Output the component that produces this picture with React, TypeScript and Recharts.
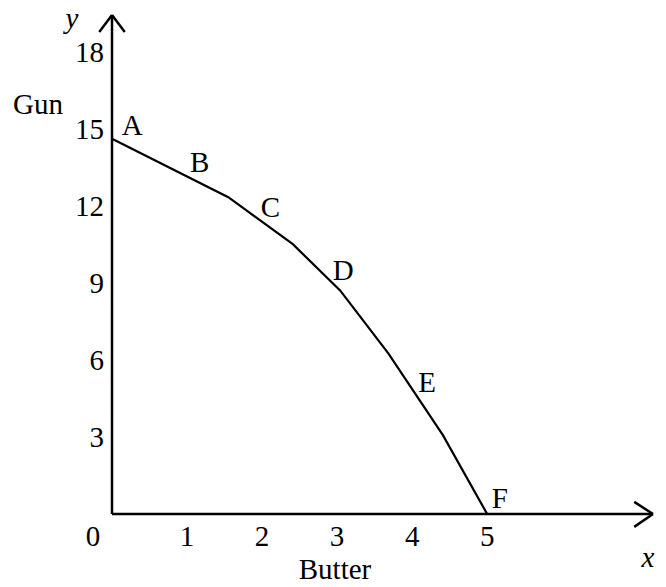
import { LineChart, Line, XAxis, YAxis, ReferenceLine, ReferenceDot, Label } from "recharts";

// production possibility frontier
const curveX = [0, 1.55, 2.41, 3.04, 3.68, 4.41, 5];
const curveY = [14.6, 12.33, 10.5, 8.7, 6.26, 3.07, 0];

const pointNames = ["A", "B", "C", "D", "E", "F"];
const labelX = [0.27, 1.17, 2.11, 3.08, 4.2, 5.17];
const labelY = [15.15, 13.7, 11.95, 9.5, 5.13, 0.62];

const xTicks = [0, 1, 2, 3, 4, 5];
const yTicks = [3, 6, 9, 12, 15, 18];
const xMax = 7.21;
const yMax = 19.42;

const data = curveX.map((x, i) => ({ x, y: curveY[i] }));

const FONT = "'Liberation Serif', 'Times New Roman', serif";
const SIZE = 29;

function XTick(props: any) {
  const { x, y, payload } = props;
  const shift = payload.value === 0 ? -19 : 0;
  return (
    <text x={x + shift} y={y} dy="0.71em" textAnchor="middle" fontFamily={FONT} fontSize={SIZE} fill="#000">
      {payload.value}
    </text>
  );
}

function YTick(props: any) {
  const { x, y, payload } = props;
  return (
    <text x={x} y={y} dy="0.35em" textAnchor="end" fontFamily={FONT} fontSize={SIZE} fill="#000">
      {payload.value}
    </text>
  );
}

const arrow = { stroke: "#000", strokeWidth: 2.5, ifOverflow: "visible" as const };

export default function App() {
  return (
    <div style={{ position: "absolute", left: 0, top: 0, background: "#fff" }}>
      <LineChart width={666} height={587} data={data} margin={{ top: 15, right: 13, left: 72, bottom: 43 }}>
        <XAxis
          type="number"
          dataKey="x"
          domain={[0, xMax]}
          ticks={xTicks}
          tick={<XTick />}
          tickLine={false}
          tickSize={0}
          tickMargin={11}
          height={30}
          axisLine={{ stroke: "#000", strokeWidth: 2.5 }}
          interval={0}
        >
          <Label
            content={(p: any) => {
              const vb = p.viewBox;
              return (
                <g fontFamily={FONT} fontSize={SIZE} fill="#000">
                  <text x={vb.x + 223} y={vb.y + 65} textAnchor="middle">Butter</text>
                  <text x={vb.x + vb.width - 5} y={vb.y + 43} textAnchor="middle" dominantBaseline="central" fontStyle="italic">x</text>
                </g>
              );
            }}
          />
        </XAxis>
        <YAxis
          type="number"
          domain={[0, yMax]}
          ticks={yTicks}
          tick={<YTick />}
          tickLine={false}
          tickSize={0}
          tickMargin={8}
          width={40}
          axisLine={{ stroke: "#000", strokeWidth: 2.5 }}
          interval={0}
        >
          <Label
            content={(p: any) => {
              const vb = p.viewBox;
              return (
                <g fontFamily={FONT} fontSize={SIZE} fill="#000">
                  <text x={vb.x} y={vb.y + 3} textAnchor="middle" dominantBaseline="central" fontStyle="italic">y</text>
                  <text x={vb.x - 34} y={vb.y + 89} textAnchor="middle" dominantBaseline="central">Gun</text>
                </g>
              );
            }}
          />
        </YAxis>
        <ReferenceLine segment={[{ x: 0, y: yMax }, { x: -0.17, y: yMax - 0.66 }]} {...arrow} />
        <ReferenceLine segment={[{ x: 0, y: yMax }, { x: 0.17, y: yMax - 0.66 }]} {...arrow} />
        <ReferenceLine segment={[{ x: xMax, y: 0 }, { x: xMax - 0.25, y: 0.47 }]} {...arrow} />
        <ReferenceLine segment={[{ x: xMax, y: 0 }, { x: xMax - 0.25, y: -0.5 }]} {...arrow} />
        <Line type="linear" dataKey="y" stroke="#000" strokeWidth={2.2} dot={false} isAnimationActive={false} />
        {pointNames.map((name, i) => (
          <ReferenceDot
            key={name}
            x={labelX[i]}
            y={labelY[i]}
            r={0}
            stroke="none"
            fill="none"
            ifOverflow="visible"
            label={{ value: name, position: "center", fontFamily: FONT, fontSize: SIZE, fill: "#000" }}
          />
        ))}
      </LineChart>
    </div>
  );
}
